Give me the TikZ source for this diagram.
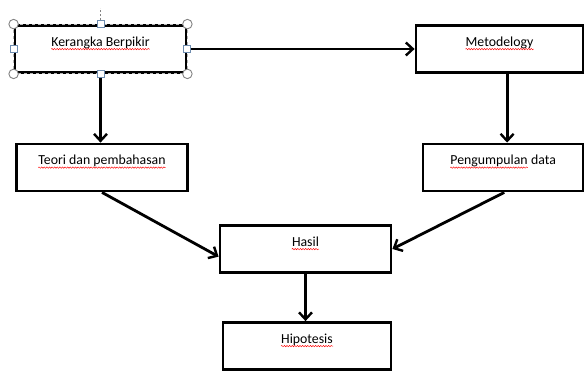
\documentclass[tikz,border=0pt]{standalone}
\usepackage{fontspec}
\usepackage{xcolor}
\usepackage{tikz}
\usetikzlibrary{arrows.meta, shapes, positioning, decorations.pathmorphing}
\setmainfont{Carlito}
\definecolor{HandleGray}{RGB}{130,130,130}
\definecolor{HandleBlue}{RGB}{110,140,175}
% red wavy underline, as the spell checker draws it
\newcommand\typo[1]{\tikz[baseline=(w.base)]{%
  \node [inner sep=0pt,text height=,text depth=,minimum width=0pt,minimum height=0pt] (w) {#1};
  \draw [red,line width=0.45pt,decorate,decoration={snake,amplitude=0.7pt,segment length=2.6pt}]
    ([yshift=-2.6pt]w.base west) -- ([yshift=-2.6pt]w.base east);}}
\tikzset{
  fb/.style={draw,line width=2.8pt,fill=white,inner sep=6pt,
    text height=15pt,text depth=20pt,minimum height=47pt,
    font=\fontsize{13.8}{16}\selectfont},
  to/.style={-{Straight Barb[length=7pt,width=13pt,line width=2.4pt]},line width=2.8pt},
  hcorner/.style={circle,draw=HandleGray,fill=white,line width=0.9pt,inner sep=0pt,minimum size=9.5pt},
  hside/.style={rectangle,draw=HandleBlue,fill=white,line width=0.9pt,inner sep=0pt,minimum size=7pt},
}

\begin{document}
\begin{tikzpicture}[x=1pt,y=-1pt]
  \useasboundingbox (0,0) rectangle (584,371);

  \node [fb,minimum width=171pt] (kb) at (100.5,49) {\typo{Kerangka Berpikir}};
  \node [fb,minimum width=167pt] (met) at (499.5,49) {\typo{Metodelogy}};
  \node [fb,minimum width=171pt] (teori) at (102,167.5) {\typo{Teori dan pembahasan}};
  \node [fb,minimum width=160pt] (peng) at (503,167.5) {\typo{Pengumpulan} data};
  \node [fb,minimum width=171pt] (hasil) at (305.5,249) {\typo{Hasil}};
  \node [fb,minimum width=168pt] (hipo) at (307,346) {\typo{Hipotesis}};

  \draw [to] (kb.east) -- (met.west);
  \draw [to] (kb.south) -- (kb.south |- teori.north);
  \draw [to] (met.-73) -- (met.-73 |- peng.north);
  \draw [to] (teori.south) -- (hasil.185);
  \draw [to] (peng.-87) -- (hasil.east);
  \draw [to] (hasil.south) -- (hasil.south |- hipo.north);

  % selection frame on the first box
  \draw [HandleGray!60,line width=1.1pt,dash pattern=on 3pt off 3pt]
    (kb.north west) rectangle (kb.south east);
  \draw [HandleGray,dash pattern=on 2pt off 2pt,line width=0.6pt] (kb.north) -- ++(0,-16);
  \foreach \a in {north west, north east, south west, south east}
    \node [hcorner] at (kb.\a) {};
  \foreach \a in {north, south, west, east}
    \node [hside] at (kb.\a) {};
\end{tikzpicture}
\end{document}
